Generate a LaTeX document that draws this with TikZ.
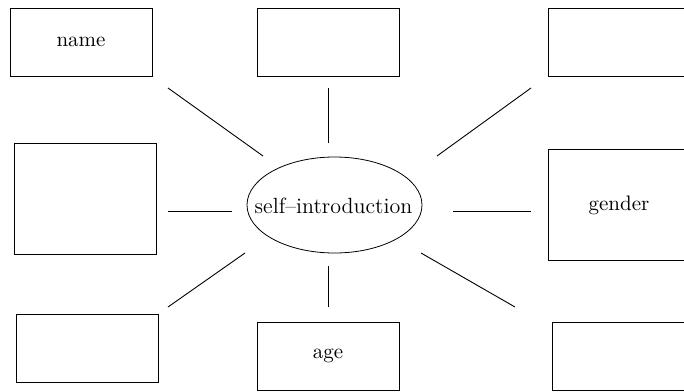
\documentclass[tikz,border=0pt]{standalone}
\usepackage{amsmath}
\usepackage{tikz}

\tikzset{
  infobox/.style={draw, minimum width=71pt, minimum height=34pt, inner sep=0pt},
  tallbox/.style={infobox, minimum height=55.5pt},
  spoke/.style={line width=0.45pt}
}

\begin{document}
\begin{tikzpicture}[x=0.5pt, y=-0.5pt, font=\fontsize{10.5}{13}\selectfont]
            \useasboundingbox (0,0) rectangle (684,391);
            \clip (0,0) rectangle (684,391);
            \node[inner sep=0pt, font=\fontsize{11}{13}\selectfont] (intro) at (333.5,206) {self--introduction};
            \draw (334.5,205) ellipse [x radius=43.75pt, y radius=24pt];
            \node[infobox] (name) at (81,42) {name};
            \node[infobox] (topmid) at (328,42) {};
            \node[infobox] (topright) at (619,42) {};
            \node[tallbox] (midleft) at (85.5,198.5) {};
            \node[tallbox] (gender) at (619,205) {gender};
            \node[infobox] (botleft) at (87.5,348) {};
            \node[infobox] (age) at (328,356) {age};
            \node[infobox] (botright) at (623,356) {};
            \coordinate (nameA) at (168,88);    \coordinate (nameB) at (263,156);
            \coordinate (topmidA) at (328,88);  \coordinate (topmidB) at (328,143);
            \coordinate (toprightA) at (531,88); \coordinate (toprightB) at (437,156);
            \coordinate (midleftA) at (168,211); \coordinate (midleftB) at (232,211);
            \coordinate (genderA) at (531,211); \coordinate (genderB) at (453,211);
            \coordinate (botleftA) at (168,307); \coordinate (botleftB) at (245,253);
            \coordinate (ageA) at (328,307);    \coordinate (ageB) at (328,266);
            \coordinate (botrightA) at (515,307); \coordinate (botrightB) at (421,253);
            \foreach \s in {name, topmid, topright, midleft, gender, botleft, age, botright}
              \draw[spoke] (\s A) -- (\s B);
        \end{tikzpicture}
\end{document}
